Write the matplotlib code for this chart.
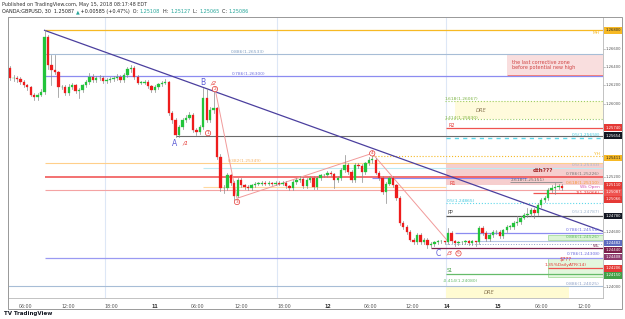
import numpy as np
import matplotlib
matplotlib.use("Agg")
import matplotlib.pyplot as plt
from matplotlib.patches import Rectangle

# ---- data (GBPUSD 30m) ----
first_open = 1.2639
closes = [1.2628, 1.2628, 1.2627, 1.2624, 1.2620, 1.2618, 1.2610, 1.2607, 1.2610, 1.2613,
          1.2673, 1.2642, 1.2637, 1.2635, 1.2618, 1.2618, 1.2612, 1.2618, 1.2620, 1.2614,
          1.2615, 1.2620, 1.2624, 1.2629, 1.2626, 1.2628, 1.2628, 1.2625, 1.2626, 1.2627,
          1.2628, 1.2629, 1.2626, 1.2631, 1.2638, 1.2639, 1.2629, 1.2623, 1.2623, 1.2624,
          1.2619, 1.2615, 1.2618, 1.2621, 1.2623, 1.2624, 1.2590, 1.2582, 1.2566, 1.2575,
          1.2582, 1.2585, 1.2588, 1.2571, 1.2569, 1.2575, 1.2606, 1.2582, 1.2593, 1.2595,
          1.2542, 1.2508, 1.2508, 1.2522, 1.2514, 1.2500, 1.2517, 1.2511, 1.2509, 1.2508,
          1.2511, 1.2513, 1.2513, 1.2514, 1.2513, 1.2514, 1.2513, 1.2514, 1.2513, 1.2514,
          1.2510, 1.2508, 1.2515, 1.2517, 1.2518, 1.2510, 1.2517, 1.2519, 1.2509, 1.2519,
          1.2522, 1.2522, 1.2525, 1.2523, 1.2517, 1.2519, 1.2528, 1.2533, 1.2526, 1.2517,
          1.2533, 1.2532, 1.2526, 1.2535, 1.2539, 1.2539, 1.2525, 1.2519, 1.2504, 1.2513,
          1.2519, 1.2511, 1.2497, 1.2470, 1.2466, 1.2460, 1.2452, 1.2449, 1.2457, 1.2449,
          1.2452, 1.2446, 1.2447, 1.2449, 1.2450, 1.2450, 1.2449, 1.2459, 1.2450, 1.2448,
          1.2449, 1.2449, 1.2450, 1.2448, 1.2450, 1.2449, 1.2465, 1.2459, 1.2453, 1.2457,
          1.2460, 1.2460, 1.2456, 1.2462, 1.2466, 1.2466, 1.2470, 1.2471, 1.2476, 1.2479,
          1.2480, 1.2484, 1.2481, 1.2490, 1.2495, 1.2497, 1.2506, 1.2508, 1.2509, 1.2510,
          1.2508]
highs = [1.2641, 1.2631, 1.2630, 1.2629, 1.2626, 1.2622, 1.2619, 1.2612, 1.2612, 1.2616,
         1.2680, 1.2675, 1.2653, 1.2653, 1.2636, 1.2620, 1.2620, 1.2621, 1.2623, 1.2622,
         1.2617, 1.2622, 1.2626, 1.2633, 1.2632, 1.2630, 1.2631, 1.2630, 1.2628, 1.2629,
         1.2630, 1.2632, 1.2631, 1.2633, 1.2640, 1.2642, 1.2641, 1.2631, 1.2625, 1.2626,
         1.2626, 1.2620, 1.2620, 1.2623, 1.2625, 1.2627, 1.2625, 1.2592, 1.2584, 1.2577,
         1.2584, 1.2588, 1.2591, 1.2590, 1.2574, 1.2577, 1.2617, 1.2617, 1.2596, 1.2617,
         1.2597, 1.2545, 1.2512, 1.2525, 1.2524, 1.2516, 1.2519, 1.2519, 1.2513, 1.2512,
         1.2513, 1.2515, 1.2515, 1.2516, 1.2516, 1.2516, 1.2515, 1.2516, 1.2516, 1.2516,
         1.2516, 1.2512, 1.2517, 1.2519, 1.2521, 1.2520, 1.2519, 1.2521, 1.2521, 1.2521,
         1.2524, 1.2524, 1.2527, 1.2527, 1.2525, 1.2521, 1.2530, 1.2544, 1.2535, 1.2528,
         1.2535, 1.2535, 1.2534, 1.2537, 1.2542, 1.2546, 1.2541, 1.2527, 1.2521, 1.2515,
         1.2521, 1.2521, 1.2513, 1.2499, 1.2472, 1.2468, 1.2462, 1.2454, 1.2459, 1.2459,
         1.2454, 1.2454, 1.2449, 1.2451, 1.2452, 1.2452, 1.2451, 1.2465, 1.2461, 1.2452,
         1.2451, 1.2451, 1.2452, 1.2452, 1.2452, 1.2451, 1.2467, 1.2467, 1.2461, 1.2459,
         1.2462, 1.2463, 1.2462, 1.2464, 1.2468, 1.2468, 1.2472, 1.2478, 1.2478, 1.2481,
         1.2486, 1.2486, 1.2486, 1.2492, 1.2497, 1.2500, 1.2508, 1.2512, 1.2514, 1.2513,
         1.2513]
lows = [1.2626, 1.2625, 1.2624, 1.2622, 1.2618, 1.2615, 1.2608, 1.2604, 1.2604, 1.2608,
        1.2611, 1.2638, 1.2620, 1.2632, 1.2607, 1.2616, 1.2610, 1.2610, 1.2616, 1.2612,
        1.2606, 1.2613, 1.2618, 1.2622, 1.2624, 1.2624, 1.2626, 1.2623, 1.2623, 1.2624,
        1.2625, 1.2626, 1.2624, 1.2624, 1.2629, 1.2635, 1.2627, 1.2621, 1.2621, 1.2621,
        1.2617, 1.2613, 1.2613, 1.2616, 1.2619, 1.2621, 1.2588, 1.2579, 1.2564, 1.2564,
        1.2573, 1.2580, 1.2583, 1.2569, 1.2566, 1.2567, 1.2573, 1.2580, 1.2580, 1.2590,
        1.2540, 1.2505, 1.2503, 1.2506, 1.2512, 1.2495, 1.2498, 1.2509, 1.2507, 1.2506,
        1.2506, 1.2509, 1.2511, 1.2511, 1.2511, 1.2511, 1.2511, 1.2511, 1.2511, 1.2511,
        1.2508, 1.2506, 1.2506, 1.2513, 1.2515, 1.2508, 1.2508, 1.2515, 1.2507, 1.2507,
        1.2517, 1.2520, 1.2520, 1.2521, 1.2508, 1.2515, 1.2517, 1.2526, 1.2524, 1.2515,
        1.2515, 1.2530, 1.2515, 1.2524, 1.2533, 1.2536, 1.2523, 1.2517, 1.2502, 1.2492,
        1.2511, 1.2509, 1.2495, 1.2468, 1.2464, 1.2458, 1.2450, 1.2447, 1.2447, 1.2447,
        1.2447, 1.2443, 1.2444, 1.2445, 1.2447, 1.2448, 1.2447, 1.2447, 1.2448, 1.2445,
        1.2446, 1.2447, 1.2447, 1.2446, 1.2446, 1.2445, 1.2447, 1.2457, 1.2451, 1.2451,
        1.2455, 1.2458, 1.2454, 1.2454, 1.2460, 1.2464, 1.2464, 1.2468, 1.2469, 1.2474,
        1.2477, 1.2478, 1.2476, 1.2479, 1.2488, 1.2493, 1.2495, 1.2504, 1.2502, 1.2507,
        1.2506]

tick_pos = [4.5, 17, 29.5, 42, 54.5, 67, 79.5, 92, 104.5, 116.5, 126.5, 141.5, 154, 166.5]
tick_labels = ["06:00", "12:00", "18:00", "11", "06:00", "12:00", "18:00", "12",
               "06:00", "12:00", "14", "15", "06:00", "12:00"]
session_breaks = [27.5, 77.5, 126.5]

tag_values = ["1.26800", "1.25740", "1.25654", "1.25411", "1.25110", "1.25087", "1.25066",
              "1.24780", "1.24482", "1.24440", "1.24408", "1.24206", "1.24150"]
tag_colors = ["#f7b924", "#e53935", "#131722", "#f7b924", "#e53935", "#ef5350", "#e53935",
              "#131722", "#5c6bc0", "#7b1f4b", "#8e3b6e", "#e53935", "#43a047"]

# ---- figure ----
W, H = 625, 319
fig = plt.figure(figsize=(W / 100, H / 100), dpi=100)
ax = fig.add_axes([8 / W, 1 - 298 / H, 595 / W, 281 / H])
XMAX = 171.9
ax.set_xlim(-0.6, XMAX)
ax.set_ylim(1.23884, 1.26945)
ax.set_facecolor("white")

for s in ax.spines.values():
    s.set_color("#b8b8b8")
    s.set_linewidth(0.6)
ax.set_yticks([])
ax.set_xticks(tick_pos)
ax.set_xticklabels(tick_labels, fontsize=3.4, color="#555555")
for lab in ax.get_xticklabels():
    if len(lab.get_text()) == 2:
        lab.set_fontweight("bold")
        lab.set_color("#333333")
ax.tick_params(axis="x", length=0, pad=4)

for b in session_breaks:
    ax.axvline(b, color="#dde7f6", lw=0.8, zorder=0)


def hline(p, x0, x1=XMAX, color="k", lw=0.7, ls="-", z=1):
    ax.plot([x0, x1], [p, p], color=color, lw=lw, ls=ls, zorder=z, solid_capstyle="butt")


def box(x0, x1, p0, p1, fc, ec="none", lw=0.6, z=0.5, alpha=1):
    ax.add_patch(Rectangle((x0, p0), x1 - x0, p1 - p0, fc=fc, ec=ec, lw=lw, zorder=z, alpha=alpha))


def txt(x, p, s, color, size=3.2, ha="left", **kw):
    ax.text(x, p, s, color=color, fontsize=size, ha=ha, va="center", zorder=6, **kw)


# zones / boxes
box(144, XMAX, 1.2631, 1.2653, "#f9dede")
box(129, XMAX, 1.2583, 1.2603, "#fffbdc")
box(126.5, XMAX, 1.2511, 1.2535, "#f6c9c9", alpha=0.9)
box(156, XMAX, 1.2452, 1.2457, "#dcf5d6", ec="#9ad98f", lw=0.5)
box(156, XMAX, 1.2411, 1.2432, "#e3f7dd", ec="#9ad98f", lw=0.5)
box(126.5, 162, 1.23884, 1.2400, "#fffbd2")

# horizontal levels
hline(1.2680, 10, color="#f7b924", lw=0.9)
hline(1.2654, 10, color="#a7bdd6", lw=0.8)
hline(1.2630, 10, color="#8c8cf0", lw=0.9)
hline(1.2631, 144, color="#ef7f7f", lw=0.7)
hline(1.2603, 126, color="#9ccc65", lw=0.8, ls=":")
hline(1.2583, 126, color="#9ccc65", lw=0.8, ls=":")
hline(1.2574, 126.5, color="#ef5350", lw=0.9)
hline(1.2565, 48, color="#6b6b6b", lw=0.8)
hline(1.2563, 126.5, color="#5fd8ea", lw=1.0, ls=(0, (3, 3)))
hline(1.2543, 105, color="#f7b924", lw=0.8, ls=":")
hline(1.2535, 10, color="#ffcf8a", lw=0.8)
hline(1.2530, 56, color="#bfeaf2", lw=0.8)
hline(1.2520, 10, color="#f04a4a", lw=1.1)
hline(1.2519, 105, 150, color="#8c8cf0", lw=0.8)
hline(1.2515, 145, 160, color="#8a8a8a", lw=0.6)
hline(1.2509, 56, 126.5, color="#ffd9a0", lw=0.8)
hline(1.2506, 10, color="#f4a3a3", lw=0.8)
hline(1.2503, 151.5, color="#ef5350", lw=0.9)
hline(1.2492, 126.5, color="#5fd8ea", lw=0.8, ls=":")
hline(1.2478, 126.5, color="#555555", lw=0.9)
hline(1.2459, 129, color="#8c8cf0", lw=0.9)
hline(1.2450, 135, color="#b5c6e8", lw=0.8)
hline(1.2447, 126.5, color="#8ea0c8", lw=0.7, ls=":")
hline(1.2443, 122, color="#7b1f4b", lw=0.9)
hline(1.2432, 10, color="#9a9af2", lw=0.9)
hline(1.2421, 156, color="#ef5350", lw=0.9)
hline(1.2415, 126.5, color="#66bb6a", lw=0.9)
hline(1.2401, -0.6, color="#a7bdd6", lw=0.8)

# trend line and wave path
ax.plot([10, XMAX], [1.2680, 1.2461], color="#4b3f9e", lw=0.9, zorder=3)
wave_k = [59.4, 65.8, 105, 127]
wave_p = [1.2617, 1.2497, 1.2546, 1.2450]
ax.plot(wave_k, wave_p, color="#f19a9a", lw=0.7, zorder=3)

# candles
opens = [first_open] + closes[:-1]
for k, (o, h, l, c) in enumerate(zip(opens, highs, lows, closes)):
    col = "#22c43a" if c >= o else "#ee1c1c"
    ax.plot([k, k], [l, h], color="#8a8a8a", lw=0.5, zorder=4)
    bh = max(abs(c - o), 0.00004)
    ax.add_patch(Rectangle((k - 0.34, min(o, c)), 0.68, bh, fc=col, ec=col, lw=0.2, zorder=5))

# annotations
txt(171, 1.2677, "MH", "#f7b924", ha="right")
txt(69, 1.2656, "0.886(1.26533)", "#7f9cc0", ha="center")
txt(69, 1.2632, "0.786(1.26300)", "#6e6ee0", ha="center")
txt(145.5, 1.2645, "the last corrective zone", "#d04545", size=3.5)
txt(145.5, 1.2639, "before potential new high", "#d04545", size=3.5)
txt(126, 1.2605, "1.618(1.26067)", "#7cb342")
txt(126, 1.2585, "1.414(1.25830)", "#7cb342")
txt(135, 1.2593, "DRE", "#8d7a55", size=3.7, style="italic")
txt(127, 1.2576, "R2", "#e53935", size=3.5)
txt(171, 1.2566, "0.5(1.25658)", "#3fc7dd", ha="right")
txt(171, 1.2545, "YH", "#f7b924", ha="right")
txt(68, 1.2538, "0.382(1.25349)", "#f5b46a", ha="center")
txt(171, 1.2533, "0.5(1.25333)", "#9fb6cf", ha="right")
txt(154.5, 1.2527, "dth???", "#a52525", size=4.1, ha="center", fontweight="bold")
txt(171, 1.2523, "0.786(1.25226)", "#777777", ha="right")
txt(150, 1.2517, "2.618(1.25151)", "#666666", ha="center")
txt(127.5, 1.2513, "R1", "#e53935", size=3.5)
txt(171, 1.2514, "0.618(1.25110)", "#f59a3a", ha="right")
txt(171, 1.2509, "Wk Open", "#d64fb0", ha="right")
txt(171, 1.2503, "1(1.25066)", "#e53935", ha="right")
txt(126.7, 1.2494, "0.5(1.24865)", "#3fc7dd")
txt(171, 1.2482, "0.5(1.24787)", "#9fb6cf", ha="right")
txt(126.7, 1.2481, "PP", "#444444", size=3.5)
txt(171, 1.2462, "0.786(1.24558)", "#6e6ee0", ha="right")
txt(171, 1.2455, "0.886(1.24526)", "#66bb6a", ha="right")
txt(171, 1.2445, "WL", "#7b1f4b", ha="right")
txt(171, 1.2436, "0.786(1.24308)", "#6e6ee0", ha="right")
txt(161, 1.2430, "$???", "#e53935", size=3.9, ha="center")
txt(161, 1.2424, "1.35%DailyATR(14)", "#e53935", ha="center")
txt(126.7, 1.2418, "S1", "#43a047", size=3.5)
txt(125.5, 1.2407, "-0.414(1.24080)", "#66bb6a")
txt(171, 1.2404, "0.886(1.24025)", "#8ea0c8", ha="right")
txt(137.4, 1.2394, "DRE", "#8d7a55", size=3.7, style="italic")

# wave labels
txt(47, 1.2557, "A", "#5b5bd6", size=5.5)
txt(50, 1.2557, "/1", "#e53935", size=4.5, style="italic")
txt(55, 1.2623, "B", "#5b5bd6", size=5.5)
txt(58, 1.2623, "/2", "#e53935", size=4.5, style="italic")
txt(123.5, 1.2437, "C", "#5b5bd6", size=5.5)
txt(126.5, 1.2437, "/3", "#e53935", size=4.5, style="italic")
for k, p, n in [(57.4, 1.2568, "1"), (59.4, 1.2616, "2"), (65.8, 1.2493, "3"),
                (105, 1.2546, "4"), (130, 1.2437, "5")]:
    ax.text(k, p, n, fontsize=3.2, color="#e53935", ha="center", va="center", zorder=7,
            bbox=dict(boxstyle="circle,pad=0.15", fc="white", ec="#e53935", lw=0.5))

# price axis: ticks + tags
ytr = ax.get_yaxis_transform()
tag_pos = []
gap = 0.00076
for v in tag_values:
    p = float(v)
    if tag_pos and tag_pos[-1] - p < gap:
        p = tag_pos[-1] - gap
    tag_pos.append(p)
for v, p, c in zip(tag_values, tag_pos, tag_colors):
    ax.add_patch(Rectangle((1.0015, p - 0.00035), 0.0305, 0.0007, transform=ytr, fc=c,
                           ec="none", clip_on=False, zorder=8))
    tc = "#222222" if c == "#f7b924" else "white"
    ax.text(1.0165, p, v, transform=ytr, fontsize=2.7, color=tc, va="center", ha="center",
            clip_on=False, zorder=9)
for p in np.arange(1.240, 1.2681, 0.002):
    if min(abs(p - t) for t in tag_pos) < 0.0007:
        continue
    ax.plot([1.0, 1.003], [p, p], transform=ytr, color="#999999", lw=0.4, clip_on=False)
    ax.text(1.0175, p, "%.5f" % p, transform=ytr, fontsize=2.7, color="#555555",
            va="center", ha="center", clip_on=False)

# outer frame
fig.add_artist(Rectangle((8 / W, 1 - 309 / H), 614 / W, 292 / H, transform=fig.transFigure,
                         fill=False, ec="#9a9a9a", lw=0.7))

# header / footer
fig.text(2 / W, 1 - 4.5 / H, "Published on TradingView.com, May 15, 2018 08:17:48 EDT",
         fontsize=3.5, color="#333333", va="center")
renderer = fig.canvas.get_renderer()
segs = [("OANDA:GBPUSD, 30  1.25087 ", "#222222"), ("\u25B2", "#26a69a"),
        (" +0.00585 (+0.47%)  O: ", "#222222"), ("1.25108", "#26a69a"), ("  H: ", "#222222"),
        ("1.25127", "#26a69a"), ("  L: ", "#222222"), ("1.25065", "#26a69a"),
        ("  C: ", "#222222"), ("1.25086", "#26a69a")]
x = 2.0
for s, c in segs:
    t = fig.text(x / W, 1 - 11.5 / H, s, fontsize=3.5, color=c, va="center")
    x += t.get_window_extent(renderer).width
fig.text(4 / W, 1 - 314 / H, "TV TradingView", fontsize=4, color="#131722",
         fontweight="bold", va="center")

fig.savefig("out.png", dpi=100)
